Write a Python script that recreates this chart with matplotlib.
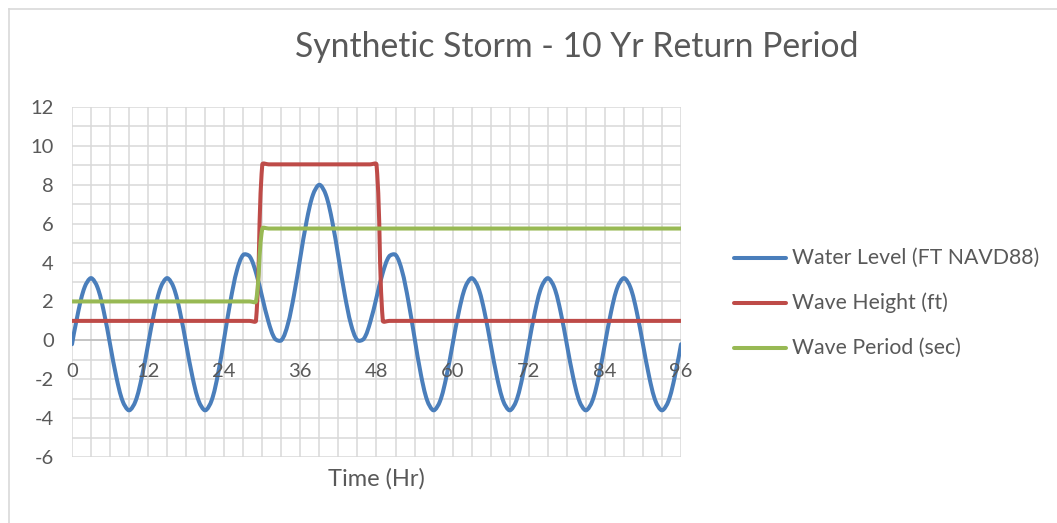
import numpy as np
import matplotlib
matplotlib.use("Agg")
import matplotlib.pyplot as plt
from matplotlib.lines import Line2D
from matplotlib.path import Path
from matplotlib.patches import PathPatch

plt.rcParams['font.family'] = ['Lato', 'DejaVu Sans']

# ---- data ----
hours = list(range(0, 97))
water_level = [
    -0.2, 1.5, 2.74, 3.2, 2.74, 1.5, -0.2, -1.9, -3.14, -3.6, -3.14, -1.9,
    -0.2, 1.5, 2.74, 3.2, 2.74, 1.5, -0.2, -1.9, -3.14, -3.6, -3.10, -1.76,
    0.12, 2.06, 3.60, 4.40, 4.32, 3.48, 2.20, 0.92, 0.08, 0.0, 0.80, 2.34,
    4.28, 6.16, 7.50, 8.00, 7.50, 6.16, 4.28, 2.34, 0.80, 0.0, 0.08, 0.92,
    2.20, 3.48, 4.32, 4.40, 3.60, 2.06, 0.12, -1.76, -3.10, -3.6, -3.14, -1.9,
    -0.2, 1.5, 2.74, 3.2, 2.74, 1.5, -0.2, -1.9, -3.14, -3.6, -3.14, -1.9,
    -0.2, 1.5, 2.74, 3.2, 2.74, 1.5, -0.2, -1.9, -3.14, -3.6, -3.14, -1.9,
    -0.2, 1.5, 2.74, 3.2, 2.74, 1.5, -0.2, -1.9, -3.14, -3.6, -3.14, -1.9,
    -0.2,
]
wave_height = [
    1.0, 1.0, 1.0, 1.0, 1.0, 1.0, 1.0, 1.0, 1.0, 1.0, 1.0, 1.0,
    1.0, 1.0, 1.0, 1.0, 1.0, 1.0, 1.0, 1.0, 1.0, 1.0, 1.0, 1.0,
    1.0, 1.0, 1.0, 1.0, 1.0, 1.0, 9.05, 9.05, 9.05, 9.05, 9.05, 9.05,
    9.05, 9.05, 9.05, 9.05, 9.05, 9.05, 9.05, 9.05, 9.05, 9.05, 9.05, 9.05,
    9.05, 1.0, 1.0, 1.0, 1.0, 1.0, 1.0, 1.0, 1.0, 1.0, 1.0, 1.0,
    1.0, 1.0, 1.0, 1.0, 1.0, 1.0, 1.0, 1.0, 1.0, 1.0, 1.0, 1.0,
    1.0, 1.0, 1.0, 1.0, 1.0, 1.0, 1.0, 1.0, 1.0, 1.0, 1.0, 1.0,
    1.0, 1.0, 1.0, 1.0, 1.0, 1.0, 1.0, 1.0, 1.0, 1.0, 1.0, 1.0,
    1.0,
]
wave_period = [
    2.0, 2.0, 2.0, 2.0, 2.0, 2.0, 2.0, 2.0, 2.0, 2.0, 2.0, 2.0,
    2.0, 2.0, 2.0, 2.0, 2.0, 2.0, 2.0, 2.0, 2.0, 2.0, 2.0, 2.0,
    2.0, 2.0, 2.0, 2.0, 2.0, 2.0, 5.75, 5.75, 5.75, 5.75, 5.75, 5.75,
    5.75, 5.75, 5.75, 5.75, 5.75, 5.75, 5.75, 5.75, 5.75, 5.75, 5.75, 5.75,
    5.75, 5.75, 5.75, 5.75, 5.75, 5.75, 5.75, 5.75, 5.75, 5.75, 5.75, 5.75,
    5.75, 5.75, 5.75, 5.75, 5.75, 5.75, 5.75, 5.75, 5.75, 5.75, 5.75, 5.75,
    5.75, 5.75, 5.75, 5.75, 5.75, 5.75, 5.75, 5.75, 5.75, 5.75, 5.75, 5.75,
    5.75, 5.75, 5.75, 5.75, 5.75, 5.75, 5.75, 5.75, 5.75, 5.75, 5.75, 5.75,
    5.75,
]

series_names = ["Water Level (FT NAVD88)", "Wave Height (ft)", "Wave Period (sec)"]
series_colors = ["#4a7ebb", "#be4b48", "#98b954"]
x_ticks = [0, 12, 24, 36, 48, 60, 72, 84, 96]
y_ticks = [-6, -4, -2, 0, 2, 4, 6, 8, 10, 12]
title = "Synthetic Storm - 10 Yr Return Period"
x_label = "Time (Hr)"

W, H = 1057, 523
fig = plt.figure(figsize=(W / 100, H / 100), dpi=100)
fig.patch.set_facecolor("white")

# outer chart border (left & top visible)
fig.add_artist(Line2D([9 / W, 9 / W], [0, 1 - 9 / H], color="#d9d9d9", lw=1.2))
fig.add_artist(Line2D([9 / W, 1], [1 - 9 / H, 1 - 9 / H], color="#d9d9d9", lw=1.2))

ax = fig.add_axes([72 / W, 1 - 457 / H, (681 - 72) / W, (457 - 107) / H])
ax.set_xlim(0, 96)
ax.set_ylim(-6, 12)

# gridlines
grid_color = "#d9d9d9"
for gx in range(0, 97, 3):
    ax.axvline(gx, color=grid_color, lw=1.1, zorder=0)
for gy in range(-6, 13, 1):
    if gy != 0:
        ax.axhline(gy, color=grid_color, lw=1.1, zorder=0)
ax.axhline(0, color="#bfbfbf", lw=1.3, zorder=0.5)

for s in ax.spines.values():
    s.set_visible(False)


def smooth_path(xs, ys, tension=1.0 / 3.0):
    """Spreadsheet-style smoothed line: cubic Bezier through every data
    point, tangents scaled by the on-screen segment lengths."""
    pts = np.column_stack([xs, ys]).astype(float)
    disp = ax.transData.transform(pts)
    n = len(pts)
    seg = np.hypot(*(np.diff(disp, axis=0).T))
    tang = np.zeros_like(pts)
    tang[1:-1] = pts[2:] - pts[:-2]
    verts = [pts[0]]
    codes = [Path.MOVETO]
    for i in range(n - 1):
        d_i = seg[i]
        f1 = tension * d_i / (seg[i - 1] + d_i) if i > 0 else 0.0
        f2 = tension * d_i / (d_i + seg[i + 1]) if i + 1 < n - 1 else 0.0
        c1 = pts[i] + tang[i] * f1
        c2 = pts[i + 1] - tang[i + 1] * f2
        verts += [c1, c2, pts[i + 1]]
        codes += [Path.CURVE4, Path.CURVE4, Path.CURVE4]
    return Path(verts, codes)


lw = 2.9
for ys, col, z in zip([water_level, wave_height, wave_period], series_colors, [2, 3, 4]):
    patch = PathPatch(smooth_path(hours, ys), facecolor="none", edgecolor=col,
                      lw=lw, capstyle="round", joinstyle="round", zorder=z)
    ax.add_patch(patch)

tick_color = "#595959"
ax.set_yticks(y_ticks)
ax.set_yticklabels([str(v) for v in y_ticks], fontsize=14.5, color=tick_color)
ax.tick_params(axis="y", length=0, pad=13)
ax.set_xticks([])
for xv in x_ticks:
    ax.text(xv, -1.6, str(xv), ha="center", va="center", fontsize=14.5,
            color=tick_color, zorder=5)

fig.text(577 / W, 1 - 47 / H, title, ha="center", va="center",
         fontsize=24.3, color="#595959")
fig.text(376 / W, 1 - 479 / H, x_label, ha="center", va="center",
         fontsize=17, color=tick_color)

# legend
leg_y = [258, 303, 348]
for name, col, yy in zip(series_names, series_colors, leg_y):
    fig.add_artist(Line2D([734 / W, 786 / W], [1 - yy / H, 1 - yy / H],
                          color=col, lw=lw, solid_capstyle="round"))
    fig.text(792 / W, 1 - yy / H, name, ha="left", va="center",
             fontsize=15.3, color=tick_color)

fig.savefig("out.png", dpi=100)
